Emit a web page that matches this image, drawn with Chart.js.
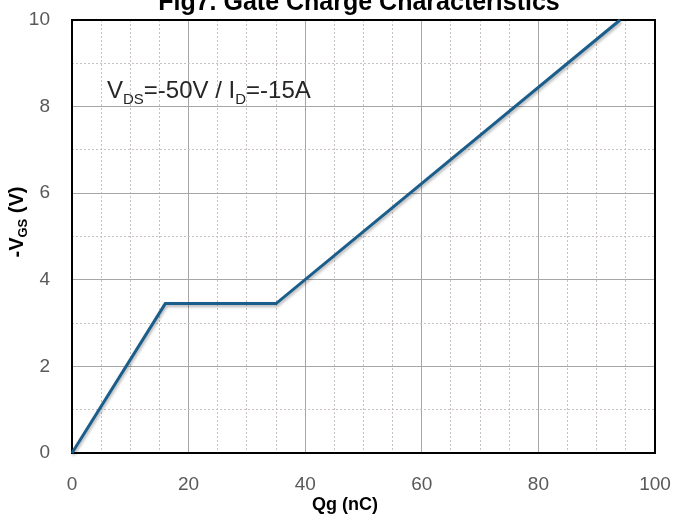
<!DOCTYPE html>
<html>
<head>
<meta charset="utf-8">
<script src="https://cdn.jsdelivr.net/npm/chart.js@4"></script>
<style>
  html, body { margin: 0; padding: 0; background: #fff; }
  #wrap { width: 673px; height: 518px; }
</style>
</head>
<body>
<div id="wrap"><canvas id="chart"></canvas></div>
<script>
// gate charge curve
const qg = [0, 16, 35, 94];        // nC
const vgs = [0, 3.45, 3.45, 10];   // -V
const xTicks = [0, 20, 40, 60, 80, 100];
const yTicks = [0, 2, 4, 6, 8, 10];

const tickFont = { family: "'Liberation Sans', sans-serif", size: 19 };

// texts drawn around the plot (title, axis titles, test condition)
const textPlugin = {
  id: "texts",
  beforeDatasetsDraw(chart) {
    const a = chart.chartArea;
    const ctx = chart.ctx;
    ctx.save();
    ctx.strokeStyle = "#000";
    ctx.lineWidth = 2;
    ctx.strokeRect(a.left, a.top, a.right - a.left, a.bottom - a.top);
    ctx.restore();
  },
  afterDraw(chart) {
    const a = chart.chartArea;
    const ctx = chart.ctx;
    ctx.save();
    // title, cut off at the top like the original
    ctx.fillStyle = "#000";
    ctx.font = "bold 25px 'Liberation Sans', sans-serif";
    ctx.textAlign = "center";
    ctx.textBaseline = "alphabetic";
    ctx.fillText("Fig7. Gate Charge Characteristics", 359, 10);

    // x title
    ctx.font = "bold 18px 'Liberation Sans', sans-serif";
    ctx.fillText("Qg (nC)", 345, 510);

    // y title with subscript
    ctx.translate(17, 222);
    ctx.rotate(-Math.PI / 2);
    const parts = [
      { t: "-V", f: "bold 20px 'Liberation Sans', sans-serif", dy: 0 },
      { t: "GS", f: "bold 13px 'Liberation Sans', sans-serif", dy: 4 },
      { t: " (V)", f: "bold 20px 'Liberation Sans', sans-serif", dy: 0 }
    ];
    let w = 0;
    parts.forEach(p => { ctx.font = p.f; w += ctx.measureText(p.t).width; });
    let x = -w / 2;
    ctx.textAlign = "left";
    parts.forEach(p => {
      ctx.font = p.f;
      ctx.fillText(p.t, x, 6 + p.dy);
      x += ctx.measureText(p.t).width;
    });
    ctx.restore();

    // test condition
    ctx.save();
    ctx.fillStyle = "#262626";
    ctx.textBaseline = "alphabetic";
    const cond = [
      { t: "V", s: 24, dy: 0 },
      { t: "DS", s: 15, dy: 6 },
      { t: "=-50V / I", s: 24, dy: 0 },
      { t: "D", s: 15, dy: 6 },
      { t: "=-15A", s: 24, dy: 0 }
    ];
    let cxp = 107;
    cond.forEach(p => {
      ctx.font = p.s + "px 'Liberation Sans', sans-serif";
      ctx.fillText(p.t, cxp, 98 + p.dy);
      cxp += ctx.measureText(p.t).width;
    });
    ctx.restore();
  }
};

const shadowPlugin = {
  id: "lineShadow",
  beforeDatasetDraw(chart) {
    const ctx = chart.ctx;
    ctx.save();
    ctx.shadowColor = "rgba(0,0,0,0.3)";
    ctx.shadowBlur = 3;
    ctx.shadowOffsetX = 1;
    ctx.shadowOffsetY = 2;
  },
  afterDatasetDraw(chart) {
    chart.ctx.restore();
  }
};

// no extra room for overhanging tick labels, the layout padding decides
const noOverhangX = s => { s.paddingLeft = 0; s.paddingRight = 0; };
const noOverhangY = s => { s.paddingTop = 0; s.paddingBottom = 0; };

const ctx = document.getElementById("chart").getContext("2d");
new Chart(ctx, {
  type: "line",
  data: {
    datasets: [
      {
        data: qg.map((q, i) => ({ x: q, y: vgs[i] })),
        borderColor: "#1b5e8c",
        borderWidth: 3,
        pointRadius: 0,
        tension: 0,
        fill: false,
        clip: false
      }
    ]
  },
  options: {
    responsive: true,
    maintainAspectRatio: false,
    animation: false,
    layout: { padding: { top: 20, right: 18, left: 0, bottom: 0 } },
    plugins: {
      legend: { display: false },
      tooltip: { enabled: false }
    },
    scales: {
      xMinor: {
        type: "linear",
        position: "bottom",
        min: 0,
        max: 100,
        ticks: { display: false, stepSize: 5 },
        grid: {
          drawTicks: false,
          color: c => (c.tick && c.tick.value % 20 === 0 ? "rgba(0,0,0,0)" : "#c9c1c1"),
          lineWidth: 1
        },
        border: { display: false, dash: [2, 2] },
        afterFit: s => { s.height = 0; noOverhangX(s); }
      },
      x: {
        type: "linear",
        position: "bottom",
        min: 0,
        max: 100,
        afterBuildTicks: s => { s.ticks = xTicks.map(v => ({ value: v })); },
        ticks: { font: tickFont, color: "#595959", padding: 20 },
        grid: { drawTicks: false, color: "#a6a6a6", lineWidth: 1 },
        border: { display: true, color: "#000", width: 2 },
        afterFit: s => { s.height = 65; noOverhangX(s); }
      },
      yMinor: {
        type: "linear",
        position: "left",
        min: 0,
        max: 10,
        ticks: { display: false, stepSize: 1 },
        grid: {
          drawTicks: false,
          color: c => (c.tick && c.tick.value % 2 === 0 ? "rgba(0,0,0,0)" : "#c9c1c1"),
          lineWidth: 1
        },
        border: { display: false, dash: [2, 2] },
        afterFit: s => { s.width = 0; noOverhangY(s); }
      },
      y: {
        type: "linear",
        position: "left",
        min: 0,
        max: 10,
        afterBuildTicks: s => { s.ticks = yTicks.map(v => ({ value: v })); },
        ticks: { font: tickFont, color: "#595959", padding: 22 },
        grid: { drawTicks: false, color: "#a6a6a6", lineWidth: 1 },
        border: { display: true, color: "#000", width: 2 },
        afterFit: s => { s.width = 72; noOverhangY(s); }
      }
    }
  },
  plugins: [shadowPlugin, textPlugin]
});
</script>
</body>
</html>
